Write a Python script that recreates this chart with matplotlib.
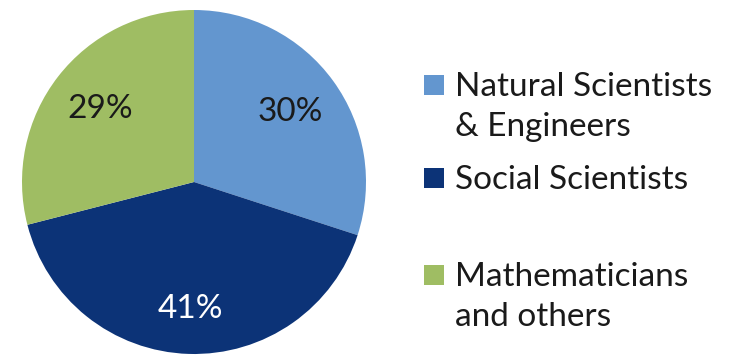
import matplotlib.pyplot as plt
from matplotlib.patches import Rectangle

categories = ["Natural Scientists\n& Engineers", "Social Scientists", "Mathematicians\nand others"]
shares = [30, 41, 29]
colors = ["#6396cf", "#0c3377", "#9fbd63"]
pct_colors = ["#1a1a1a", "white", "#1a1a1a"]

plt.rcParams["font.family"] = ["Lato", "DejaVu Sans"]

W, H = 731, 355
fig = plt.figure(figsize=(W / 100, H / 100), dpi=100)

# pie axes: centre ~(194, 182) px, radius ~172 px
cx, cy, r = 194, 182, 172
ax = fig.add_axes([(cx - r) / W, (H - cy - r) / H, 2 * r / W, 2 * r / H])
wedges, texts, autotexts = ax.pie(
    shares, colors=colors, startangle=90, counterclock=False,
    autopct="%d%%", pctdistance=0.69,
    wedgeprops=dict(linewidth=0),
    textprops=dict(fontsize=24),
)
for t, c in zip(autotexts, pct_colors):
    t.set_color(c)
# the 41% label sits a little further out in the original
x, y = autotexts[1].get_position()
autotexts[1].set_position((x * 1.07, y * 1.07))
ax.set_xlim(-1, 1)
ax.set_ylim(-1, 1)
ax.set_aspect("equal")
ax.axis("off")

# legend drawn by hand to keep the uneven spacing of the original
legend_y = [85, 178, 275]  # px from top, centre of first text line
for lab, col, yy in zip(categories, colors, legend_y):
    fig.patches.append(Rectangle((424 / W, (H - yy - 10) / H), 20 / W, 20 / H,
                                 transform=fig.transFigure, facecolor=col,
                                 edgecolor="none"))
    fig.text(455 / W, (H - yy + 13) / H, lab, fontsize=24, va="top", ha="left",
             color="#1a1a1a", linespacing=1.4)

fig.savefig("out.png", dpi=100)
